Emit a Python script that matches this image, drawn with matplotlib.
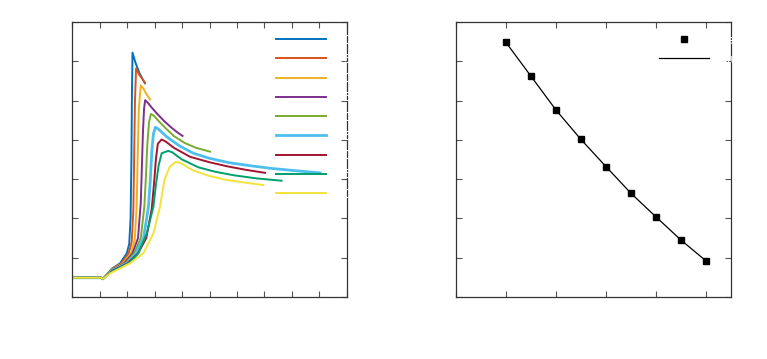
import matplotlib
matplotlib.use("Agg")
import matplotlib.pyplot as plt

c1_x = [0, 1.05, 1.12, 1.25, 1.45, 1.75, 1.99, 2.08, 2.13, 2.16, 2.18, 2.2, 2.3, 2.45, 2.65]
c1_y = [.49, .49, .46, .56, .72, .86, 1.11, 1.35, 2.0, 3.5, 5.2, 6.22, 5.98, 5.7, 5.44]
c2_x = [0, 1.05, 1.12, 1.25, 1.45, 1.8, 2.06, 2.17, 2.23, 2.26, 2.29, 2.33, 2.45, 2.65]
c2_y = [.49, .49, .46, .56, .71, .86, 1.11, 1.4, 2.2, 3.6, 5.0, 5.82, 5.65, 5.46]
c3_x = [0, 1.05, 1.12, 1.25, 1.45, 1.85, 2.14, 2.28, 2.35, 2.39, 2.43, 2.5, 2.6, 2.7, 2.84]
c3_y = [.49, .49, .46, .56, .70, .86, 1.11, 1.45, 2.3, 3.6, 4.8, 5.39, 5.3, 5.17, 5.03]
c4_x = [0, 1.05, 1.12, 1.25, 1.45, 1.9, 2.2, 2.4, 2.5, 2.54, 2.58, 2.62, 2.66, 2.75, 2.9,
        3.1, 3.35, 3.6, 3.85, 4.02]
c4_y = [.49, .49, .46, .55, .69, .86, 1.11, 1.5, 2.4, 3.3, 4.2, 4.8, 5.01, 4.95, 4.82,
        4.66, 4.48, 4.32, 4.18, 4.10]
c5_x = [0, 1.05, 1.12, 1.25, 1.45, 1.95, 2.26, 2.5, 2.63, 2.69, 2.74, 2.8, 2.87, 2.97, 3.15,
        3.4, 3.7, 4.1, 4.5, 5.02]
c5_y = [.49, .49, .46, .55, .68, .86, 1.11, 1.5, 2.3, 3.1, 3.9, 4.45, 4.66, 4.62, 4.48,
        4.3, 4.1, 3.92, 3.8, 3.70]
c6_x = [0, 1.05, 1.12, 1.25, 1.45, 2.0, 2.33, 2.6, 2.78, 2.85, 2.9, 2.96, 3.03, 3.15, 3.44,
        3.9, 4.41, 5.0, 5.7, 6.5, 7.3, 8.2, 9.02]
c6_y = [.49, .49, .46, .54, .67, .86, 1.11, 1.5, 2.3, 3.0, 3.7, 4.15, 4.32, 4.27, 4.08,
        3.85, 3.66, 3.53, 3.42, 3.34, 3.27, 3.21, 3.16]
c7_x = [0, 1.05, 1.12, 1.25, 1.45, 2.03, 2.4, 2.7, 2.9, 2.99, 3.05, 3.12, 3.26, 3.4, 3.7,
        4.29, 5.0, 5.62, 6.3, 7.02]
c7_y = [.49, .49, .46, .54, .66, .86, 1.11, 1.5, 2.25, 2.95, 3.5, 3.9, 4.01, 3.96, 3.8,
        3.57, 3.43, 3.33, 3.24, 3.16]
c8_x = [0, 1.05, 1.12, 1.25, 1.45, 2.07, 2.41, 2.72, 2.96, 3.05, 3.15, 3.26, 3.5, 3.65, 4.0,
        4.6, 5.2, 5.87, 6.7, 7.62]
c8_y = [.49, .49, .46, .53, .65, .86, 1.11, 1.62, 2.3, 2.85, 3.35, 3.66, 3.72, 3.68, 3.5,
        3.3, 3.19, 3.10, 3.02, 2.96]
c9_x = [0, 1.05, 1.12, 1.25, 1.38, 2.11, 2.59, 2.96, 3.2, 3.36, 3.56, 3.78, 3.95, 4.41, 5.0,
        5.62, 6.3, 6.96]
c9_y = [.49, .49, .46, .53, .60, .86, 1.11, 1.62, 2.30, 2.98, 3.32, 3.44, 3.41, 3.22, 3.08,
        2.98, 2.91, 2.85]

curvas = [(c1_x, c1_y), (c2_x, c2_y), (c3_x, c3_y), (c4_x, c4_y), (c5_x, c5_y),
          (c6_x, c6_y), (c7_x, c7_y), (c8_x, c8_y), (c9_x, c9_y)]
rotulos = ['20', '25', '30', '35', '40', '45', '50', '55', '60']
cores = ['#0072BD', '#D95319', '#EDB120', '#7E2F8E', '#77AC30',
         '#4DBEEE', '#A2142F', '#009F6B', '#F2E33A']

# grafico da direita
pontos_x = [20, 25, 30, 35, 40, 45, 50, 55, 60]
pontos_y = [6.48, 5.62, 4.76, 4.01, 3.32, 2.64, 2.04, 1.45, 0.92]

fig = plt.figure(figsize=(7.67, 3.59), dpi=100)
ax1 = fig.add_axes([0.0939, 0.1727, 0.3585, 0.766])
ax2 = fig.add_axes([0.5945, 0.1727, 0.3585, 0.766])

for (x, y), cor, rot in zip(curvas, cores, rotulos):
    lw = 2.0 if cor == '#4DBEEE' else 1.4
    ax1.plot(x, y, color=cor, lw=lw, label=rot)

ax1.set_xlim(0, 10)
ax1.set_ylim(0, 7)
ax1.set_xticks(range(0, 11))
ax1.set_yticks(range(0, 8))
ax1.legend(loc='upper right', frameon=False, fontsize=9, labelcolor='white',
           handlelength=4.0, labelspacing=0.5, borderaxespad=0.3,
           bbox_to_anchor=(1.051, 0.99))

ax2.plot(pontos_x, pontos_y, 's', color='black', ms=4.5, label='dados')
ax2.plot(pontos_x, pontos_y, '-', color='black', lw=0.9, label='ajuste')
ax2.set_xlim(10, 65)
ax2.set_ylim(0, 7)
ax2.set_xticks(range(10, 70, 10))
ax2.set_yticks(range(0, 8))
ax2.legend(loc='upper right', frameon=False, fontsize=9, labelcolor='white',
           handlelength=4.0, labelspacing=0.5, borderaxespad=0.3,
           bbox_to_anchor=(1.127, 0.99))

for ax in (ax1, ax2):
    ax.tick_params(direction='in', top=True, right=True, length=4,
                   color='#555555', labelcolor='white', labelsize=8)
    for s in ax.spines.values():
        s.set_color('#333333')
        s.set_linewidth(0.9)
    ax.set_xlabel('x', color='white')
    ax.set_ylabel('y', color='white')

fig.savefig('out.png', dpi=100)
